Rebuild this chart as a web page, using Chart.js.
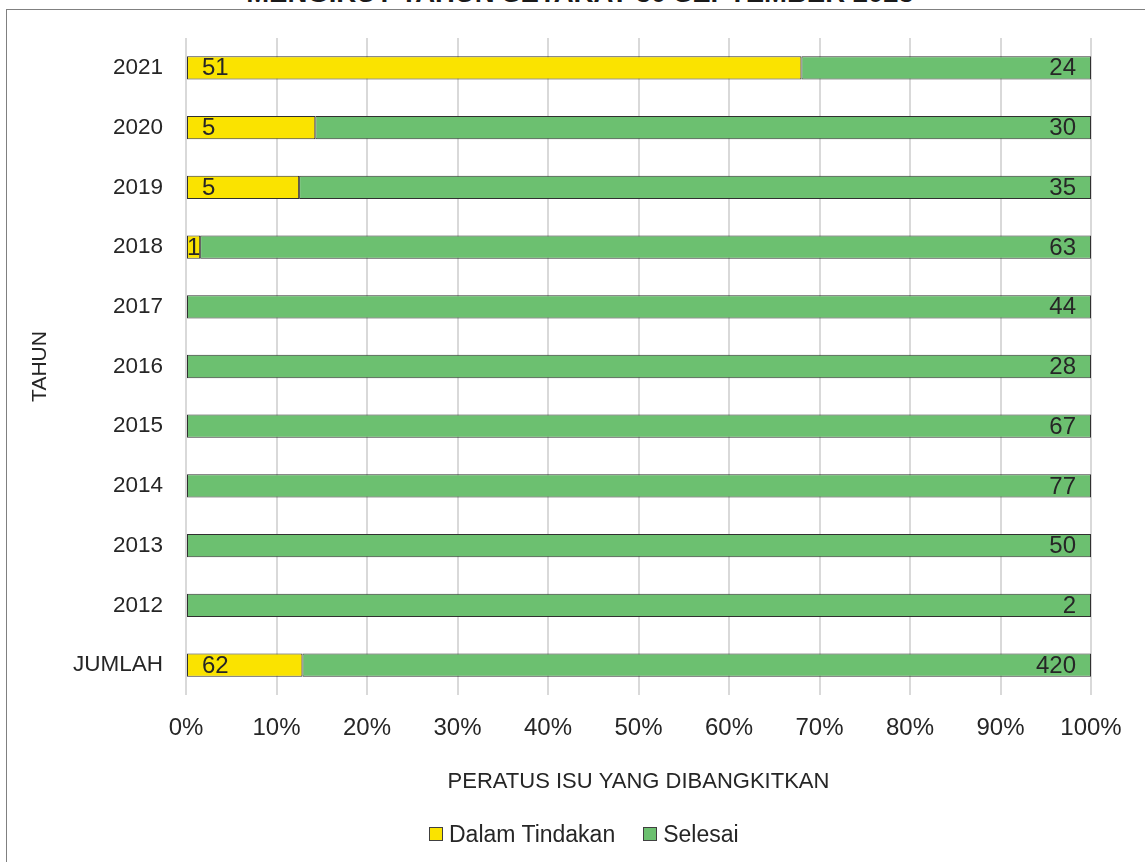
<!DOCTYPE html>
<html>
<head>
<meta charset="utf-8">
<script src="https://cdn.jsdelivr.net/npm/chart.js@4.4.0/dist/chart.umd.min.js"></script>
<style>
  html, body { margin: 0; padding: 0; background: #fff; overflow: hidden; }
  #wrap { position: relative; width: 1145px; height: 862px; overflow: hidden; }
  #frame { position: absolute; left: 6px; top: 9px; width: 1200px; height: 900px; border: 1px solid #808080; box-sizing: border-box; }
  #title { position: absolute; left: 0; width: 1160px; top: -21px; text-align: center; font: bold 27.5px "Liberation Sans", Arial, sans-serif; line-height: 27px; color: #1a1a1a; white-space: nowrap; }
  #c { position: absolute; left: 0; top: 0; }
  #legend { position: absolute; left: 429px; top: 822px; height: 24px; display: flex; align-items: center; font: 23px "Liberation Sans", Arial, sans-serif; line-height: 23px; color: #262626; white-space: nowrap; }
  .item { display: flex; align-items: center; }
  .box { width: 14px; height: 14px; box-sizing: border-box; border: 1px solid #404040; margin-right: 6px; position: relative; top: 0px; }
  .item + .item { margin-left: 28px; }
</style>
</head>
<body>
<div id="wrap">
  <div id="frame"></div>
  <div id="title">MENGIKUT TAHUN SETAKAT 30 SEPTEMBER 2023</div>
  <canvas id="c" width="1145" height="862"></canvas>
  <div id="legend"></div>
</div>
<script>
const categories = ['2021','2020','2019','2018','2017','2016','2015','2014','2013','2012','JUMLAH'];
const dalamTindakan = [51, 5, 5, 1, 0, 0, 0, 0, 0, 0, 62];
const selesai = [24, 30, 35, 63, 44, 28, 67, 77, 50, 2, 420];
const seriesNames = ['Dalam Tindakan', 'Selesai'];
const seriesColors = ['#FAE300', '#6CC070'];
const xTickStep = 10;

const totals = categories.map((_, i) => dalamTindakan[i] + selesai[i]);
const pctDalam = dalamTindakan.map((v, i) => v / totals[i] * 100);
const pctSelesai = selesai.map((v, i) => v / totals[i] * 100);
const rawCounts = [dalamTindakan, selesai];

const FONT = '"Liberation Sans", Arial, sans-serif';
const TXT = '#262626';

const labelPlugin = {
  id: 'countLabels',
  afterDatasetsDraw(chart) {
    const ctx = chart.ctx;
    ctx.save();
    ctx.font = '24px ' + FONT;
    ctx.fillStyle = TXT;
    ctx.textBaseline = 'middle';
    chart.data.datasets.forEach((ds, di) => {
      const meta = chart.getDatasetMeta(di);
      meta.data.forEach((el, i) => {
        const v = rawCounts[di][i];
        if (!v) return;
        const txt = String(v);
        const tw = ctx.measureText(txt).width;
        const left = Math.min(el.base, el.x), right = Math.max(el.base, el.x);
        if (di === 0) {
          if (right - left < tw + 30) {
            ctx.textAlign = 'center';
            ctx.fillText(txt, (left + right) / 2, el.y + 1);
          } else {
            ctx.textAlign = 'left';
            ctx.fillText(txt, left + 15, el.y + 1);
          }
        } else {
          ctx.textAlign = 'right';
          ctx.fillText(txt, right - 15, el.y + 1);
        }
      });
    });
    ctx.restore();
  }
};

const chart = new Chart(document.getElementById('c'), {
  type: 'bar',
  data: {
    labels: categories,
    datasets: [
      { label: seriesNames[0], data: pctDalam, backgroundColor: seriesColors[0], borderColor: '#303030', borderWidth: 1, borderSkipped: false },
      { label: seriesNames[1], data: pctSelesai, backgroundColor: seriesColors[1], borderColor: '#303030', borderWidth: 1, borderSkipped: false }
    ]
  },
  options: {
    indexAxis: 'y',
    responsive: false,
    animation: false,
    devicePixelRatio: 1,
    layout: { padding: { left: 28, top: 38, right: 54, bottom: 61 } },
    datasets: { bar: { barPercentage: 0.39, categoryPercentage: 1 } },
    scales: {
      x: {
        stacked: true,
        min: 0, max: 100,
        ticks: { stepSize: xTickStep, callback: v => v + '%', font: { family: FONT, size: 24 }, color: TXT, padding: 19, maxRotation: 0 },
        grid: { color: '#d9d9d9', lineWidth: 2, drawTicks: false },
        border: { display: false },
        title: { display: true, text: 'PERATUS ISU YANG DIBANGKITKAN', font: { family: FONT, size: 22 }, color: TXT, padding: { top: 0, bottom: 6 } },
        afterFit: s => { s.height = 106; }
      },
      y: {
        stacked: true,
        ticks: { font: { family: FONT, size: 22.5 }, color: TXT, padding: 23 },
        grid: { display: false, drawTicks: false },
        border: { display: false },
        title: { display: true, text: 'TAHUN', font: { family: FONT, size: 21 }, color: TXT, padding: { top: 0, bottom: 0 } },
        afterFit: s => { s.width = 158; }
      }
    },
    plugins: {
      legend: { display: false },
      tooltip: { enabled: false },
      title: { display: false }
    }
  },
  plugins: [labelPlugin]
});

// legend built from the dataset names/colours
const lg = document.getElementById('legend');
chart.data.datasets.forEach(ds => {
  const it = document.createElement('div');
  it.className = 'item';
  const b = document.createElement('span');
  b.className = 'box';
  b.style.background = ds.backgroundColor;
  const t = document.createElement('span');
  t.textContent = ds.label;
  it.appendChild(b); it.appendChild(t);
  lg.appendChild(it);
});
</script>
</body>
</html>
